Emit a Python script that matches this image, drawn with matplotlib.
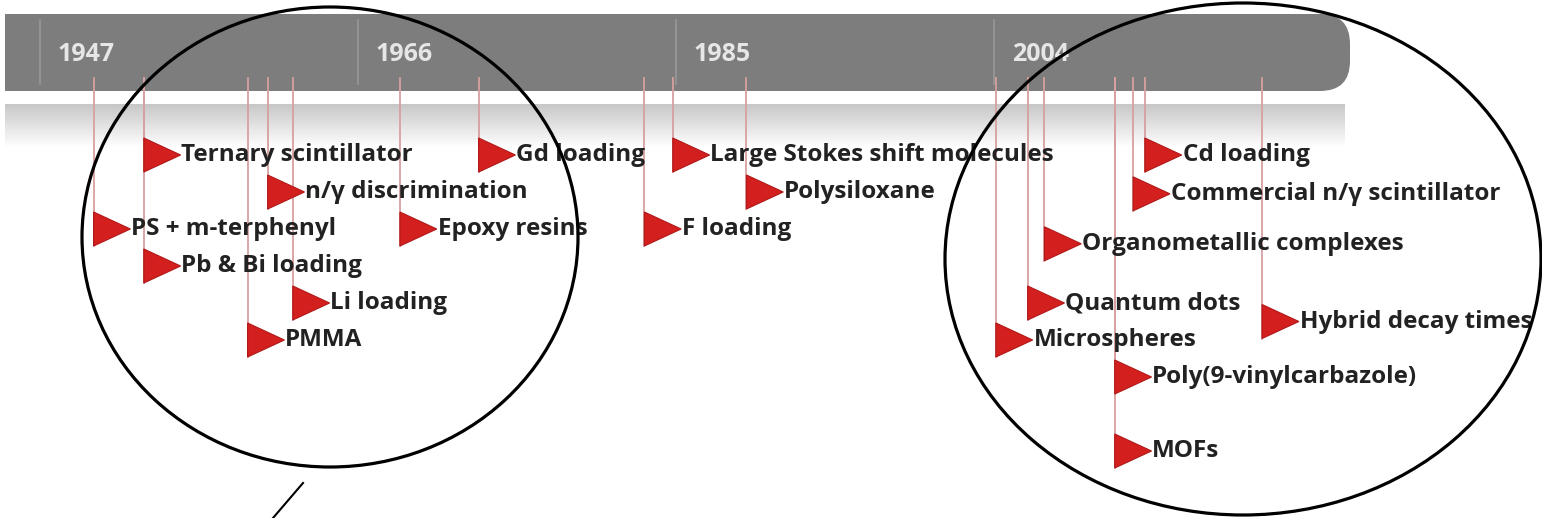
import numpy as np
import matplotlib
matplotlib.use("Agg")
import matplotlib.pyplot as plt
from matplotlib.patches import FancyBboxPatch, Ellipse, Polygon, Rectangle

W, H = 1542, 518

# timeline data
tick_years = [1947, 1966, 1985, 2004]

labels = ["PS + m-terphenyl", "Ternary scintillator", "Pb & Bi loading", "PMMA",
          "n/\u03b3 discrimination", "Li loading", "Epoxy resins", "Gd loading",
          "F loading", "Large Stokes shift molecules", "Polysiloxane",
          "Microspheres", "Quantum dots", "Organometallic complexes",
          "Poly(9-vinylcarbazole)", "MOFs", "Commercial n/\u03b3 scintillator",
          "Cd loading", "Hybrid decay times"]
years = [1950.2, 1953.2, 1953.2, 1959.4, 1960.6, 1962.1, 1968.5, 1973.2,
         1983.1, 1984.8, 1989.2, 2004.1, 2006.0, 2007.0, 2011.2, 2011.2,
         2012.3, 2013.0, 2020.0]
rows = [2, 0, 3, 5, 1, 4, 2, 0, 2, 0, 1, 5, 4, 2.4, 6, 8, 1.05, 0, 4.5]

# pixel geometry of the original picture
PX_YEAR = 16.74   # pixels per year
X0 = 40           # pixel x of 1947
ROW0 = 155        # pixel y of first row
PITCH = 37        # pixels per row
FONT = ["Open Sans", "DejaVu Sans"]


def lvl(py):
    return (py - ROW0) / PITCH


fig = plt.figure(figsize=(W / 100, H / 100), dpi=100)

# background layer in pixels: grey bar and its reflection
bg = fig.add_axes([0, 0, 1, 1], zorder=0)
bg.set_xlim(0, W)
bg.set_ylim(H, 0)
bg.axis("off")
bg.add_patch(FancyBboxPatch((5, 14), 1345, 77, boxstyle="round,pad=0,rounding_size=30",
                            fc="#7d7d7d", ec="none"))
bg.add_patch(Rectangle((5, 14), 100, 77, fc="#7d7d7d", ec="none"))
grad = np.linspace(0.78, 1.0, 60).reshape(-1, 1)
bg.imshow(grad, cmap="gray", vmin=0, vmax=1, extent=[5, 1345, 148, 104],
          aspect="auto", interpolation="bilinear")
bg.set_xlim(0, W)
bg.set_ylim(H, 0)

# data layer: years on x, rows on y
ax = fig.add_axes([0, 0, 1, 1], zorder=1)
ax.patch.set_alpha(0)
ax.set_xlim(1947 - X0 / PX_YEAR, 1947 + (W - X0) / PX_YEAR)
ax.set_ylim(lvl(H), lvl(0))
ax.axis("off")

for yr in tick_years:
    ax.plot([yr, yr], [lvl(20), lvl(84)], color="#989898", lw=1.2)
    ax.text(yr + 1.05, lvl(54), str(yr), color="#e6e6e6", fontsize=18,
            fontweight="bold", family=FONT, va="center", ha="left")

half_h = 0.46
tri_w = 2.2
for lab, yr, r in zip(labels, years, rows):
    ax.plot([yr, yr], [lvl(78), r + half_h], color="#d8a0a0", lw=1.3, zorder=2)
    ax.add_patch(Polygon([(yr, r - half_h), (yr, r + half_h), (yr + tri_w, r)],
                         closed=True, fc="#d41f1f", ec="#b01818", lw=0.8, zorder=3))
    ax.text(yr + tri_w + 0.05, r, lab, fontsize=17.5, fontweight="bold",
            family=FONT, color="#222222", va="center", ha="left", zorder=4)

# overlay layer: hand drawn highlight ellipses
top = fig.add_axes([0, 0, 1, 1], zorder=2)
top.patch.set_alpha(0)
top.set_xlim(0, W)
top.set_ylim(H, 0)
top.axis("off")
top.add_patch(Ellipse((330, 237), 496, 460, fill=False, ec="black", lw=2.3))
top.add_patch(Ellipse((1243, 259), 596, 512, fill=False, ec="black", lw=2.3))
top.plot([303, 273], [483, 518], color="black", lw=1.5)

fig.savefig("out.png", dpi=100)
